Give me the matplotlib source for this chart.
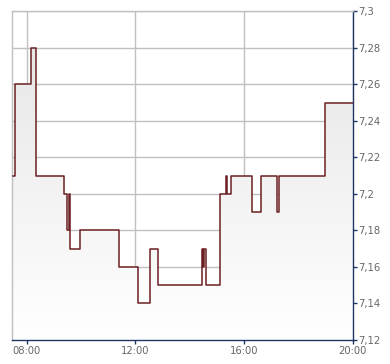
import matplotlib
matplotlib.use('Agg')
import matplotlib.pyplot as plt
import numpy as np
from matplotlib.ticker import FuncFormatter
from matplotlib.colors import LinearSegmentedColormap

# trading hours (decimal) and price, step after each trade
times = [7.5, 7.56, 8.15, 8.33, 9.39, 9.50, 9.54, 9.59, 9.97, 11.40, 12.11, 12.55,
         12.83, 14.44, 14.50, 14.52, 14.61, 15.13, 15.34, 15.36, 15.52, 16.29, 16.62,
         17.21, 17.28, 18.97, 20.0]
prices = [7.21, 7.26, 7.28, 7.21, 7.20, 7.18, 7.20, 7.17, 7.18, 7.16, 7.14, 7.17,
          7.15, 7.17, 7.16, 7.17, 7.15, 7.20, 7.21, 7.20, 7.21, 7.19, 7.21,
          7.19, 7.21, 7.25, 7.25]
x_ticks = [8, 12, 16, 20]
x_labels = ['08:00', '12:00', '16:00', '20:00']
y_ticks = [7.12, 7.14, 7.16, 7.18, 7.20, 7.22, 7.24, 7.26, 7.28, 7.30]

grid_col = '#c0c0c0'
navy = '#1f3564'
line_col = '#6b1f22'

fig = plt.figure(figsize=(3.9, 3.64), dpi=100)
ax = fig.add_axes([0.0315, 0.066, 0.873, 0.903])

ymin, ymax = 7.12, 7.30
xmin, xmax = 7.47, 20.0

# gradient fill under the step line
fill = ax.fill_between(times, prices, ymin, step='post', facecolor='none', edgecolor='none')
cmap = LinearSegmentedColormap.from_list('g', ['#ffffff', '#e4e4e4'])
grad = np.linspace(0, 1, 256).reshape(-1, 1)
img = ax.imshow(grad, cmap=cmap, aspect='auto', origin='lower',
                extent=[xmin, xmax, ymin, ymax], zorder=1)
img.set_clip_path(fill.get_paths()[0], transform=ax.transData)

ax.plot(times, prices, drawstyle='steps-post', color=line_col, lw=1.1, zorder=3)

ax.set_xlim(xmin, xmax)
ax.set_ylim(ymin, ymax)
ax.set_xticks(x_ticks)
ax.set_xticklabels(x_labels)
ax.set_yticks(y_ticks)
ax.yaxis.set_major_formatter(FuncFormatter(lambda v, p: ('%g' % round(v, 2)).replace('.', ',')))
ax.yaxis.tick_right()

ax.grid(True, color=grid_col, lw=1.0, zorder=0)
ax.set_axisbelow(True)

for s in ['left', 'top']:
    ax.spines[s].set_color(grid_col)
    ax.spines[s].set_linewidth(1.0)
for s in ['right', 'bottom']:
    ax.spines[s].set_color(navy)
    ax.spines[s].set_linewidth(1.0)

ax.tick_params(axis='both', direction='out', length=3, width=1, color=navy,
               labelcolor='#666666', labelsize=7.2, pad=1)

plt.savefig('out.png', dpi=100)
